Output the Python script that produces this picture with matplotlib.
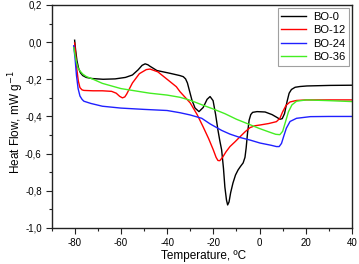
import matplotlib
matplotlib.use("Agg")
import matplotlib.pyplot as plt
from matplotlib.ticker import FuncFormatter, MultipleLocator

plt.rcParams['font.family'] = ['Liberation Sans', 'DejaVu Sans']

# Data
bo0_x = [-80, -79.6, -79.0, -78.3, -77.5, -76.5, -75, -72.5, -67.7, -62.5, -58, -55, -52.6,
         -50.8, -49.5, -48.3, -47.4, -44.4, -38.7, -34.5, -33, -32, -31.2, -29.3, -27.9,
         -26.2, -24.4, -22.7, -21.4, -20.1, -19, -18, -17.2, -16.4, -15.6, -15, -14.3, -13.8,
         -13.2, -12.5, -11.5, -10.4, -9.3, -8.2, -7.1, -6.3, -5.8, -5.2, -4.5, -3.8, -3.0,
         -1.1, 2.4, 5.4, 7.5, 8.8, 9.8, 10.8, 11.9, 12.8, 13.8, 15.4, 17.5, 20.5, 30.5, 40]
bo0_y = [0.01, -0.04, -0.10, -0.14, -0.165, -0.18, -0.19, -0.196, -0.2, -0.198, -0.19, -0.177,
         -0.15, -0.125, -0.117, -0.122, -0.13, -0.153, -0.168, -0.18, -0.186, -0.198, -0.22,
         -0.31, -0.355, -0.374, -0.352, -0.308, -0.293, -0.315, -0.39, -0.473, -0.53, -0.58,
         -0.68, -0.78, -0.85, -0.876, -0.86, -0.81, -0.758, -0.715, -0.688, -0.668, -0.65,
         -0.62, -0.57, -0.49, -0.42, -0.39, -0.378, -0.374, -0.376, -0.39, -0.405, -0.415,
         -0.412, -0.385, -0.32, -0.275, -0.255, -0.243, -0.239, -0.236, -0.233, -0.232]

bo12_x = [-80, -79.6, -79.0, -78.4, -77.7, -76.8, -76, -72, -68, -64, -62, -60.5, -59.3, -58.3,
          -57.5, -55, -52, -49, -47.4, -44, -40, -36, -34.4, -30, -27, -24.4, -22, -20, -18.8,
          -18, -17.2, -16, -14.5, -12.8, -10.5, -8.5, -6.3, -4.1, -2, 0.2, 4, 7.3, 8.8, 10,
          11.5, 13.2, 16, 20.3, 40]
bo12_y = [-0.005, -0.06, -0.15, -0.21, -0.245, -0.257, -0.26, -0.262, -0.262, -0.265, -0.275,
          -0.292, -0.30, -0.295, -0.28, -0.22, -0.17, -0.148, -0.145, -0.16, -0.2, -0.24,
          -0.267, -0.327, -0.39, -0.456, -0.52, -0.58, -0.62, -0.637, -0.638, -0.62, -0.59,
          -0.562, -0.535, -0.51, -0.483, -0.46, -0.45, -0.446, -0.438, -0.428, -0.41, -0.375,
          -0.34, -0.322, -0.314, -0.311, -0.311]

bo24_x = [-80.4, -79.8, -79.2, -78.5, -77.7, -76.8, -76, -73, -68, -60, -50, -40, -34.4, -30,
          -25, -21.4, -16.4, -12.8, -8.5, -4.1, 0.2, 5, 7.3, 8.5, 9.5, 10.5, 11.6, 13.2, 16,
          22, 30, 40]
bo24_y = [-0.02, -0.09, -0.18, -0.25, -0.29, -0.308, -0.318, -0.33, -0.345, -0.355, -0.362,
          -0.368, -0.38, -0.392, -0.41, -0.44, -0.475, -0.495, -0.513, -0.527, -0.543, -0.555,
          -0.562, -0.562, -0.545, -0.505, -0.463, -0.427, -0.41, -0.401, -0.40, -0.40]

bo36_x = [-80.4, -79.8, -79.2, -78.5, -77.7, -76.5, -75, -72, -68, -60, -50, -47.4, -40, -34.4,
          -30, -25, -20, -15, -10, -5, 0, 4, 7, 8.8, 10, 11.2, 12.5, 14, 16, 20.3, 30, 40]
bo36_y = [-0.03, -0.07, -0.11, -0.14, -0.155, -0.172, -0.185, -0.2, -0.222, -0.25, -0.27,
          -0.275, -0.285, -0.297, -0.313, -0.337, -0.36, -0.385, -0.415, -0.44, -0.465,
          -0.483, -0.496, -0.498, -0.48, -0.43, -0.375, -0.338, -0.318, -0.311, -0.315, -0.32]

labels = ["BO-0", "BO-12", "BO-24", "BO-36"]
colors = ["#000000", "#ff0000", "#2020ff", "#44ee22"]

fig = plt.figure(figsize=(3.59, 2.64), dpi=100)
ax = fig.add_axes([0.1435, 0.1364, 0.837, 0.845])

for xs, ys, lab, c in zip([bo0_x, bo12_x, bo24_x, bo36_x], [bo0_y, bo12_y, bo24_y, bo36_y],
                          labels, colors):
    ax.plot(xs, ys, color=c, lw=1.0, label=lab)

ax.set_xlim(-90, 40)
ax.set_ylim(-1.0, 0.2)
ax.xaxis.set_major_locator(MultipleLocator(20))
ax.xaxis.set_minor_locator(MultipleLocator(10))
ax.yaxis.set_major_locator(MultipleLocator(0.2))
ax.yaxis.set_minor_locator(MultipleLocator(0.1))

def yfmt(v, pos):
    return ("%.1f" % v).replace(".", ",").replace("\u2212", "-")

def xfmt(v, pos):
    return "%d" % round(v)

ax.yaxis.set_major_formatter(FuncFormatter(yfmt))
ax.xaxis.set_major_formatter(FuncFormatter(xfmt))

ax.tick_params(which="both", direction="out", top=False, right=False, labelsize=7,
               color="#222222", width=0.8)
ax.tick_params(which="major", length=4, pad=3)
ax.tick_params(which="minor", length=2)
for s in ax.spines.values():
    s.set_linewidth(1.0)
    s.set_color("#222222")

ax.set_xlabel("Temperature, ºC", fontsize=8.5)
ax.set_ylabel("Heat Flow, mW g$^{-1}$", fontsize=8.5)
ax.xaxis.set_label_coords(0.506, -0.1)
ax.yaxis.set_label_coords(-0.086, 0.475)

leg = ax.legend(loc="upper right", fontsize=8, frameon=True, fancybox=False,
                edgecolor="#888888", handlelength=2.3, handletextpad=0.6,
                borderpad=0.3, labelspacing=0.32, borderaxespad=0.3)
leg.get_frame().set_linewidth(0.8)

fig.savefig("out.png", dpi=100)
